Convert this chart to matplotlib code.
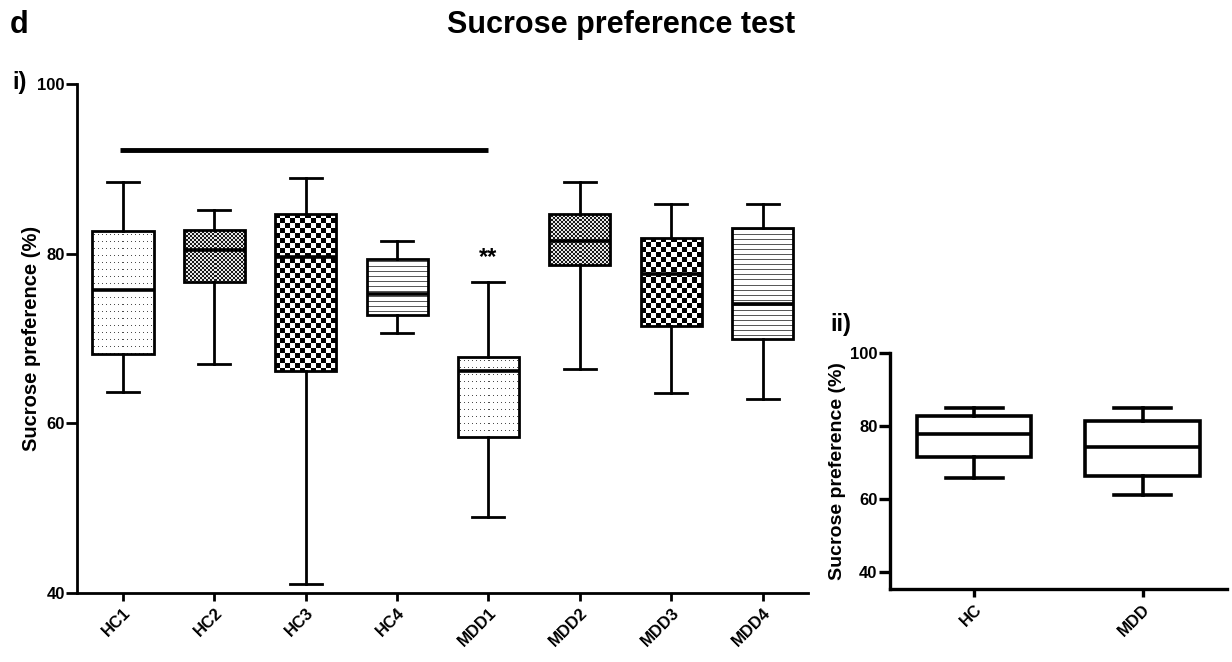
"""Sucrose preference test box plots"""

import numpy as np
import matplotlib
matplotlib.use("Agg")
import matplotlib.pyplot as plt

plt.rcParams["font.family"] = ["Liberation Sans", "DejaVu Sans"]
plt.rcParams["font.weight"] = "bold"

# panel i: per-group box statistics (whisker low, Q1, median, Q3, whisker high)
groups = ["HC1", "HC2", "HC3", "HC4", "MDD1", "MDD2", "MDD3", "MDD4"]
whislo = [63.7, 67.0, 41.0, 70.6, 48.9, 66.4, 63.6, 62.8]
q1 = [68.2, 76.6, 66.1, 72.8, 58.4, 78.6, 71.4, 69.9]
med = [75.7, 80.4, 79.6, 75.2, 66.1, 81.5, 77.6, 74.0]
q3 = [82.7, 82.8, 84.7, 79.4, 67.8, 84.7, 81.8, 83.0]
whishi = [88.4, 85.1, 88.9, 81.5, 76.6, 88.4, 85.8, 85.8]
patterns = ["dots", "fine", "checker", "lines", "dots", "fine", "checker", "lines"]

# panel ii: pooled groups
groups2 = ["HC", "MDD"]
whislo2 = [65.6, 60.9]
q1_2 = [71.5, 66.3]
med2 = [77.8, 74.2]
q3_2 = [82.7, 81.4]
whishi2 = [84.8, 84.8]

sig_y = 92.2
sig_span = (1, 5)
star_group = 5
star_y = 79.5

W, H = 1232, 662
fig = plt.figure(figsize=(W / 100, H / 100), dpi=100)


def stats(lo, a, m, b, hi):
    return [dict(whislo=w0, q1=x1, med=x2, q3=x3, whishi=w1, fliers=[])
            for w0, x1, x2, x3, w1 in zip(lo, a, m, b, hi)]


def style_axes(ax, lw):
    for s in ["top", "right"]:
        ax.spines[s].set_visible(False)
    for s in ["left", "bottom"]:
        ax.spines[s].set_linewidth(lw)
    ax.tick_params(axis="y", width=lw, length=8, labelsize=12, pad=1)
    ax.tick_params(axis="x", width=lw, length=6, labelsize=12, pad=3)
    for lab in ax.get_yticklabels():
        lab.set_fontweight("bold")
    for lab in ax.get_xticklabels():
        lab.set_fontweight("bold")
        lab.set_rotation(45)
        lab.set_ha("right")
        lab.set_va("top")
        lab.set_rotation_mode("anchor")


def fill_pattern(ax, patch, kind):
    """paint a pixel pattern inside a box patch"""
    ext = patch.get_path().get_extents()
    x0, y0, x1, y1 = ext.x0, ext.y0, ext.x1, ext.y1
    p0 = ax.transData.transform((x0, y0))
    p1 = ax.transData.transform((x1, y1))
    nw = max(int(round(p1[0] - p0[0])), 2)
    nh = max(int(round(p1[1] - p0[1])), 2)
    i, j = np.mgrid[0:nh, 0:nw]
    img = np.ones((nh, nw))
    if kind == "dots":
        img[(i % 7 == 3) & (j % 4 == 2)] = 0.3
    elif kind == "fine":
        img = np.where(((i // 2) + (j // 2)) % 2 == 0, 0.1, 0.9)
    elif kind == "checker":
        img = np.where(((i // 5) + (j // 5)) % 2 == 0, 0.0, 1.0)
    elif kind == "lines":
        img[(i % 5 == 2)] = 0.35
    im = ax.imshow(img, extent=[x0, x1, y0, y1], cmap="gray", vmin=0, vmax=1,
                   interpolation="nearest", aspect="auto", zorder=1.5)
    im.set_clip_path(patch)


# ---- panel i ----
ax1 = fig.add_axes([77.3 / W, 1 - 592.7 / H, (808.3 - 77.3) / W, (592.7 - 84) / H])
ax1.set_xlim(0.5, 8.5)
ax1.set_ylim(40, 100)
bp = ax1.bxp(stats(whislo, q1, med, q3, whishi), positions=range(1, 9),
             widths=0.67, patch_artist=True, showfliers=False,
             boxprops=dict(facecolor="none", edgecolor="black", linewidth=2),
             medianprops=dict(color="black", linewidth=2.6),
             whiskerprops=dict(color="black", linewidth=2),
             capprops=dict(color="black", linewidth=2), capwidths=0.35)
for b in bp["boxes"]:
    b.set_zorder(2)
for m in bp["medians"]:
    m.set_zorder(3)
ax1.set_xlim(0.5, 8.5)
ax1.set_ylim(40, 100)
for patch, kind in zip(bp["boxes"], patterns):
    fill_pattern(ax1, patch, kind)
ax1.set_xlim(0.5, 8.5)
ax1.set_ylim(40, 100)
ax1.set_yticks([40, 60, 80, 100])
ax1.set_xticks(range(1, 9))
ax1.set_xticklabels(groups)
ax1.set_ylabel("Sucrose preference (%)", fontsize=14.5, fontweight="bold")
ax1.yaxis.set_label_coords(-0.049, 0.5)
style_axes(ax1, 2)
ax1.plot([sig_span[0] - 0.03, sig_span[1]], [sig_y, sig_y], color="black", lw=3.5,
         solid_capstyle="butt")
ax1.text(star_group, star_y, "**", ha="center", va="center", fontsize=17,
         fontweight="bold")

# ---- panel ii ----
ax2 = fig.add_axes([890 / W, 1 - 589.3 / H, (1226.7 - 890) / W, (589.3 - 352.7) / H])
bp2 = ax2.bxp(stats(whislo2, q1_2, med2, q3_2, whishi2), positions=[1, 2],
              widths=0.68, patch_artist=True, showfliers=False,
              boxprops=dict(facecolor="white", edgecolor="black", linewidth=2.6),
              medianprops=dict(color="black", linewidth=2.6),
              whiskerprops=dict(color="black", linewidth=2.6),
              capprops=dict(color="black", linewidth=2.6), capwidths=0.34)
ax2.set_xlim(0.5, 2.5)
ax2.set_ylim(35.2, 100)
ax2.set_yticks([40, 60, 80, 100])
ax2.set_xticks([1, 2])
ax2.set_xticklabels(groups2)
ax2.spines["left"].set_bounds(35.2, 100)
ax2.set_ylabel("Sucrose preference (%)", fontsize=14, fontweight="bold")
ax2.yaxis.set_label_coords(-0.131, 0.5)
style_axes(ax2, 2.4)

# ---- figure labels ----
fig.text(10 / W, 1 - 25 / H, "d", fontsize=22, fontweight="bold", va="center")
fig.text(621 / W, 1 - 25 / H, "Sucrose preference test", fontsize=22,
         fontweight="bold", ha="center", va="center")
fig.text(12 / W, 1 - 83 / H, "i)", fontsize=17, fontweight="bold", va="center")
fig.text(830 / W, 1 - 325 / H, "ii)", fontsize=17, fontweight="bold", va="center")

fig.savefig("out.png", dpi=100, facecolor="white")
